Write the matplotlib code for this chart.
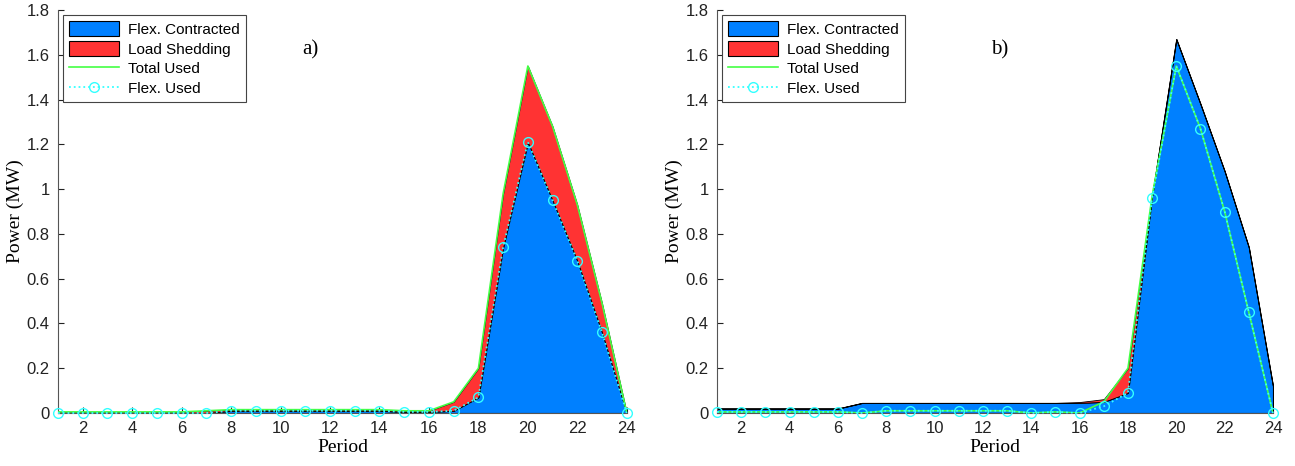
import numpy as np
import matplotlib.pyplot as plt
from matplotlib.patches import Patch
from matplotlib.lines import Line2D

periods = np.arange(1, 25)

# a) flex contracted == flex used, red = load shedding on top
a_flex_used = [0.0, 0.0, 0.0, 0.0, 0.0, 0.0, 0.0, 0.01, 0.01, 0.01, 0.01, 0.01,
               0.01, 0.01, 0.005, 0.005, 0.01, 0.07, 0.74, 1.21, 0.95, 0.68, 0.36, 0.0]
a_contracted = a_flex_used
a_shedding = [0.005, 0.005, 0.005, 0.005, 0.005, 0.005, 0.01, 0.005, 0.005, 0.005, 0.005, 0.005,
              0.005, 0.005, 0.005, 0.005, 0.04, 0.13, 0.24, 0.34, 0.33, 0.25, 0.13, 0.0]

# b)
b_contracted = [0.02, 0.02, 0.02, 0.02, 0.02, 0.02, 0.045, 0.045, 0.045, 0.045, 0.045, 0.045,
                0.045, 0.045, 0.045, 0.045, 0.05, 0.09, 0.97, 1.67, 1.38, 1.08, 0.74, 0.12]
b_shedding = [0.0, 0.0, 0.0, 0.0, 0.0, 0.0, 0.0, 0.0, 0.0, 0.0, 0.0, 0.0,
              0.0, 0.0, 0.0, 0.004, 0.012, 0.11, 0.0, 0.0, 0.0, 0.0, 0.0, 0.0]
b_flex_used = [0.005, 0.005, 0.005, 0.005, 0.005, 0.005, 0.0, 0.01, 0.01, 0.01, 0.01, 0.01,
               0.01, 0.0, 0.005, 0.0, 0.03, 0.09, 0.96, 1.55, 1.27, 0.90, 0.45, 0.0]
b_total_used = [0.005, 0.005, 0.005, 0.005, 0.005, 0.005, 0.0, 0.01, 0.01, 0.01, 0.01, 0.01,
                0.01, 0.0, 0.005, 0.0, 0.05, 0.20, 0.97, 1.55, 1.27, 0.90, 0.45, 0.0]

a_total_used = list(np.array(a_flex_used) + np.array(a_shedding))

blue = '#0080FF'
red = '#FF3333'
green = '#44FF44'
cyan = '#33FFFF'

fig = plt.figure(figsize=(12.95, 4.66), dpi=100)
ax1 = fig.add_axes([0.0448, 0.1137, 0.4392, 0.8648])
ax2 = fig.add_axes([0.5537, 0.1137, 0.4293, 0.8648])


def draw(ax, contracted, shedding, total, flex, tag, tag_x):
    contracted = np.array(contracted)
    top = contracted + np.array(shedding)
    ax.fill_between(periods, 0, contracted, facecolor=blue, edgecolor='black', linewidth=0.8, zorder=2)
    ax.fill_between(periods, contracted, top, facecolor=red, edgecolor='black', linewidth=0.6, zorder=2)
    ax.plot(periods, total, color=green, linewidth=1.2, zorder=3)
    ax.plot(periods, flex, color=cyan, linestyle=':', linewidth=1.3, marker='o',
            markersize=7, markerfacecolor='none', markeredgecolor=cyan, markeredgewidth=1.0,
            zorder=4, clip_on=False)
    ax.set_xlim(1, 24)
    ax.set_ylim(0, 1.8)
    ax.set_xticks(np.arange(2, 25, 2))
    ax.set_yticks(np.arange(0, 1.81, 0.2))
    ax.set_yticklabels(['0', '0.2', '0.4', '0.6', '0.8', '1', '1.2', '1.4', '1.6', '1.8'])
    ax.spines['top'].set_visible(False)
    ax.spines['right'].set_visible(False)
    for s in ('left', 'bottom'):
        ax.spines[s].set_color('#555555')
        ax.spines[s].set_linewidth(0.8)
    ax.tick_params(direction='in', length=4, labelsize=12, colors='#222222', pad=6)
    for lab in ax.get_xticklabels() + ax.get_yticklabels():
        lab.set_family('Liberation Sans')
    ax.set_xlabel('Period', family='Liberation Serif', fontsize=14, labelpad=2)
    ax.set_ylabel('Power (MW)', family='Liberation Serif', fontsize=14, labelpad=2)
    ax.text(tag_x, 1.62, tag, family='Liberation Serif', fontsize=15, ha='center', va='center')
    handles = [
        Patch(facecolor=blue, edgecolor='black', linewidth=0.8),
        Patch(facecolor=red, edgecolor='black', linewidth=0.8),
        Line2D([], [], color=green, linewidth=1.2),
        Line2D([], [], color=cyan, linestyle=':', linewidth=1.3, marker='o', markersize=7,
               markerfacecolor='none', markeredgecolor=cyan),
    ]
    leg = ax.legend(handles, ['Flex. Contracted', 'Load Shedding', 'Total Used', 'Flex. Used'],
                    loc='upper left', bbox_to_anchor=(0.0, 1.0), fancybox=False, framealpha=1,
                    edgecolor='#444444', prop={'family': 'Liberation Sans', 'size': 11},
                    handlelength=3.3, handleheight=1.2, labelspacing=0.25, borderpad=0.4,
                    handletextpad=0.6, borderaxespad=0.3)
    leg.get_frame().set_linewidth(0.8)


draw(ax1, a_contracted, a_shedding, a_total_used, a_flex_used, 'a)', 11.2)
draw(ax2, b_contracted, b_shedding, b_total_used, b_flex_used, 'b)', 12.7)

fig.savefig('out.png', dpi=100)
